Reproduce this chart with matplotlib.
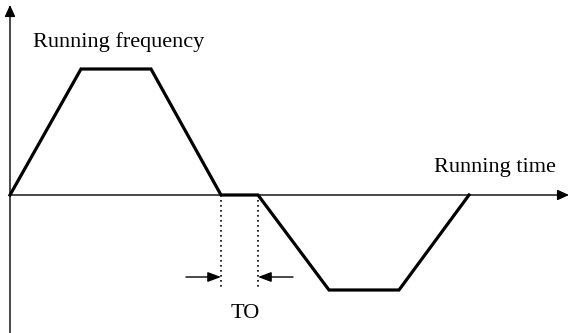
import matplotlib
matplotlib.use("Agg")
import matplotlib.pyplot as plt

# Waveform (time vs running frequency), arbitrary units
time = [0, 71, 141, 211, 248, 319, 389, 459]
freq = [0, 126, 126, 0, 0, -95, -95, 0]

# Dead-time interval TO
to_start = 211
to_end = 248

label_freq = "Running frequency"
label_time = "Running time"
label_to = "TO"

plt.rcParams['font.family'] = ['Liberation Serif', 'DejaVu Serif']

fig = plt.figure(figsize=(5.69, 3.33), dpi=100)
ax = fig.add_axes([0, 0, 1, 1])
ax.set_xlim(-10, 559)
ax.set_ylim(-138, 195)
ax.axis('off')

axis_kw = dict(arrowstyle='-|>,head_length=0.7,head_width=0.32', color='black',
               lw=1.0, mutation_scale=10, shrinkA=0, shrinkB=0)
# y axis
ax.annotate('', xy=(0, 190), xytext=(0, -138), arrowprops=axis_kw)
# x axis
ax.annotate('', xy=(559, 0), xytext=(0, 0), arrowprops=axis_kw)

# waveform
ax.plot(time, freq, color='black', lw=2.3, solid_joinstyle='miter', zorder=3)

# dotted markers for TO
ymin = min(freq)
for xv in (to_start, to_end):
    ax.plot([xv, xv], [0, ymin + 1], color='black', lw=1.2, ls=(0, (1, 2)))

arr_kw = dict(arrowstyle='-|>,head_length=0.8,head_width=0.3', color='black',
              lw=1.0, mutation_scale=10, shrinkA=0, shrinkB=0)
ay = -82
ax.annotate('', xy=(to_start, ay), xytext=(to_start - 35, ay), arrowprops=arr_kw)
ax.annotate('', xy=(to_end, ay), xytext=(to_end + 35, ay), arrowprops=arr_kw)

ax.text(23, 148, label_freq, fontsize=16, ha='left', va='baseline')
ax.text(424, 23, label_time, fontsize=16, ha='left', va='baseline')
ax.text(235, -123, label_to, fontsize=16, ha='center', va='baseline')

fig.savefig('out.png', dpi=100)
